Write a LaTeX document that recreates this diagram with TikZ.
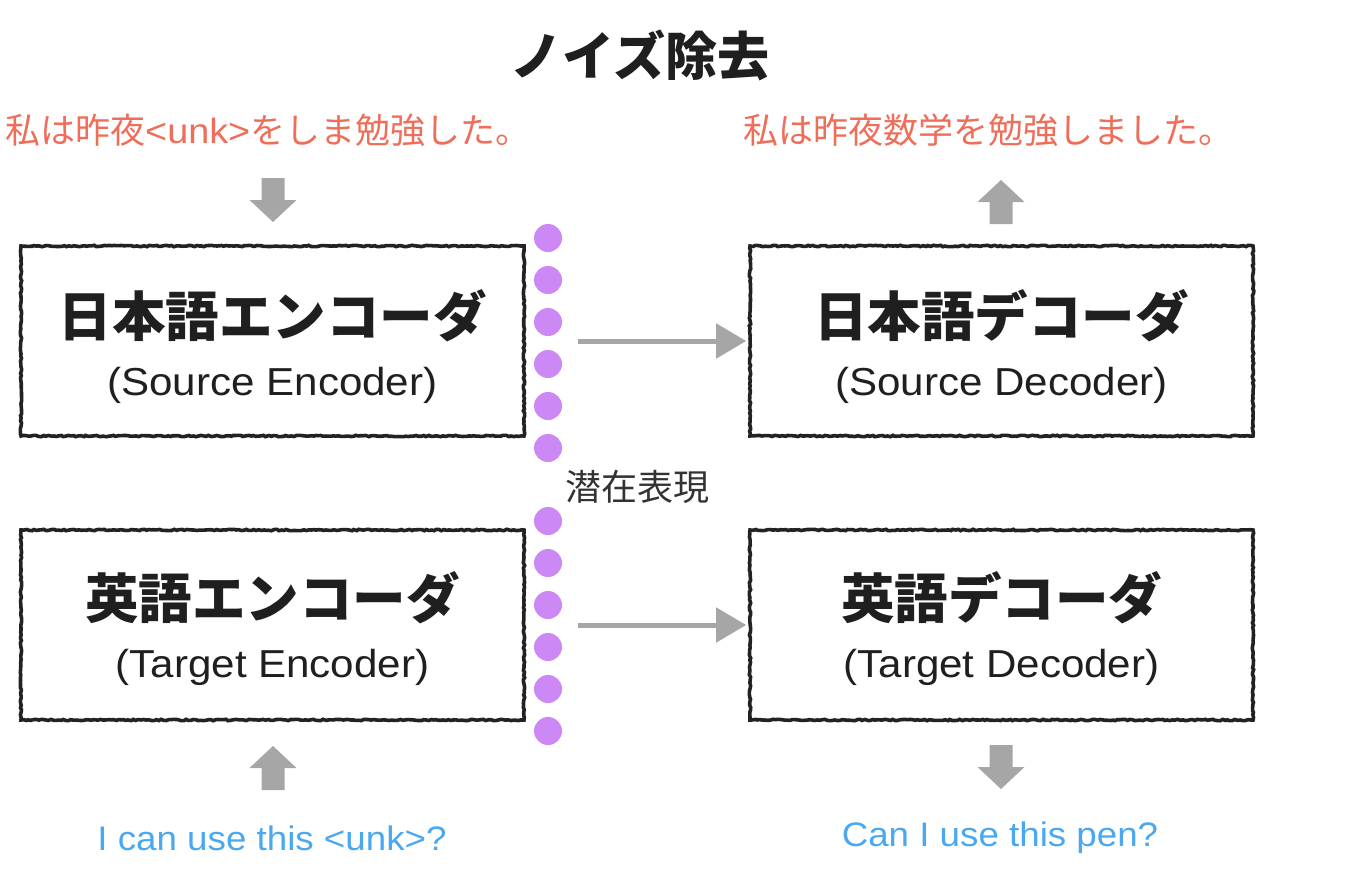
\documentclass[tikz,border=0pt]{standalone}
\usepackage{fontspec}
\setmainfont{Noto Sans CJK JP}
\newfontfamily\latinf[FakeStretch=1.08]{Liberation Sans}
\usetikzlibrary{arrows.meta,decorations.pathmorphing}
\definecolor{redtxt}{HTML}{EE6E5A}
\definecolor{bluetxt}{HTML}{4AA8F0}
\definecolor{dotpurple}{HTML}{CC88F5}
\definecolor{arrowgray}{HTML}{A6A6A6}
\definecolor{boxline}{HTML}{222222}
\definecolor{labelgray}{HTML}{333333}
\tikzset{
  box/.style={draw=boxline, line width=3.6pt, minimum width=503pt, minimum height=190pt, inner sep=0pt,
    decorate, decoration={random steps, segment length=2.5pt, amplitude=0.7pt}},
  bigtxt/.style={font=\fontsize{53.5}{60}\selectfont\bfseries, text=black!88, inner sep=0pt},
  subtxt/.style={font=\latinf\fontsize{39}{44}\selectfont, text=black!88, inner sep=0pt},
  redline/.style={font=\fontsize{35}{40}\selectfont, text=redtxt, inner sep=0pt},
  blueline/.style={font=\latinf\fontsize{34}{38}\selectfont, text=bluetxt, inner sep=0pt},
  latentdot/.style={circle, fill=dotpurple, minimum size=28pt, inner sep=0pt},
  flow/.style={draw=arrowgray, line width=5pt, -{Triangle[length=30pt,width=34pt]},
    shorten <=52pt, shorten >=2pt},
  downblock/.pic={\fill[arrowgray] (-11.5,-22) -- (11.5,-22) -- (11.5,0) -- (23.5,0) -- (0,22) -- (-23.5,0) -- (-11.5,0) -- cycle;},
  upblock/.pic={\fill[arrowgray] (-11.5,22) -- (11.5,22) -- (11.5,0) -- (23.5,0) -- (0,-22) -- (-23.5,0) -- (-11.5,0) -- cycle;},
}
\begin{document}
\begin{tikzpicture}[x=1pt,y=-1pt]
\useasboundingbox (0,0) rectangle (1346,886);

\node[font=\fontsize{52}{60}\selectfont\bfseries, text=black!88, inner sep=0pt] (title) at (640,55) {ノイズ除去};

\node[redline, anchor=west] (srcin) at (5,130) {私は昨夜{\latinf <unk>}をしま勉強した。};
\node[redline] (srcout) at (988,130) {私は昨夜数学を勉強しました。};

% boxes
\node[box] (je) at (272.5,341) {};
\node[box] (ee) at (272.5,625) {};
\node[box] (jd) at (1001.5,341) {};
\node[box] (ed) at (1001.5,625) {};

\node[bigtxt] (jet) at (272.5,316) {日本語エンコーダ};
\node[subtxt] (jes) at (272.5,385) {(Source Encoder)};
\node[bigtxt] (eet) at (272.5,598) {英語エンコーダ};
\node[subtxt] (ees) at (272.5,667) {(Target Encoder)};
\node[bigtxt] (jdt) at (1001.5,316) {日本語デコーダ};
\node[subtxt] (jds) at (1001.5,385) {(Source Decoder)};
\node[bigtxt] (edt) at (1001.5,598) {英語デコーダ};
\node[subtxt] (eds) at (1001.5,667) {(Target Decoder)};

% latent dots
\foreach \i/\yy in {1/238,2/280,3/322,4/364,5/406,6/448,7/521,8/563,9/605,10/647,11/689,12/731}
  \node[latentdot] (d\i) at (548,\yy) {};

\node[font=\fontsize{36}{40}\selectfont, text=labelgray, inner sep=0pt] (latent) at (637,487) {潜在表現};

% flows
\draw[flow] (je.east) -- (jd.west);
\draw[flow] (ee.east) -- (ed.west);

% block arrows
\pic at (273,200) {downblock};
\pic at (1001,202) {upblock};
\pic at (273,768) {upblock};
\pic at (1001,767) {downblock};

\node[blueline] (tgtin) at (272,838) {I can use this <unk>?};
\node[blueline] (tgtout) at (1000,838) {Can I use this pen?};
\end{tikzpicture}
\end{document}
